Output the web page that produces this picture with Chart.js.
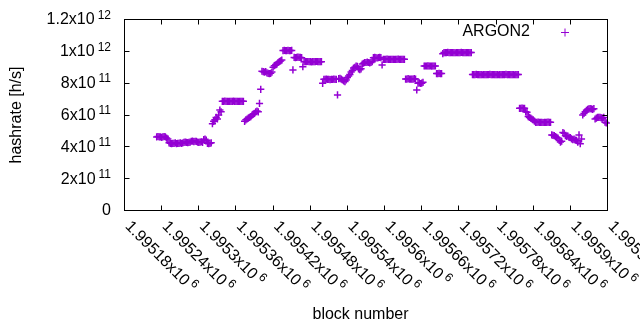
<!DOCTYPE html>
<html><head><meta charset="utf-8">
<script src="https://cdn.jsdelivr.net/npm/chart.js@4/dist/chart.umd.min.js"></script>
<style>html,body{margin:0;padding:0;background:#fff}#c{display:block}</style>
</head><body><canvas id="c" width="640" height="330"></canvas>
<script>
const seriesName = 'ARGON2';
const xAxisTitle = 'block number';
const yAxisTitle = 'hashrate [h/s]';
const xTicks = [1995180,1995240,1995300,1995360,1995420,1995480,1995540,1995600,1995660,1995720,1995780,1995840,1995900,1995960];
const xTickMain = ['1.99518x10','1.99524x10','1.9953x10','1.99536x10','1.99542x10','1.99548x10','1.99554x10','1.9956x10','1.99566x10','1.99572x10','1.99578x10','1.99584x10','1.9959x10','1.99596x10'];
const xTickExp = ['6','6','6','6','6','6','6','6','6','6','6','6','6','6'];
const yTicks = [0,2e11,4e11,6e11,8e11,1e12,1.2e12];
const yTickMain = ['0','2x10','4x10','6x10','8x10','1x10','1.2x10'];
const yTickExp = ['','11','11','11','11','12','12'];

const blockNumbers = [
1995232,1995234,1995236,1995238,1995240,1995242,1995244,1995246,1995248,1995250,
1995252,1995254,1995256,1995258,1995260,1995262,1995264,1995266,1995268,1995270,
1995272,1995274,1995276,1995278,1995280,1995282,1995284,1995286,1995288,1995290,
1995292,1995294,1995296,1995298,1995300,1995302,1995304,1995306,1995308,1995310,
1995312,1995314,1995316,1995318,1995320,1995322,1995324,1995326,1995328,1995330,
1995332,1995334,1995336,1995338,1995340,1995342,1995344,1995346,1995348,1995350,
1995352,1995354,1995356,1995358,1995360,1995362,1995364,1995366,1995368,1995370,
1995372,1995374,1995376,1995378,1995380,1995382,1995384,1995386,1995388,1995390,
1995392,1995394,1995396,1995398,1995400,1995402,1995404,1995406,1995408,1995410,
1995412,1995414,1995416,1995418,1995420,1995422,1995424,1995426,1995428,1995430,
1995432,1995434,1995436,1995438,1995440,1995442,1995444,1995446,1995448,1995450,
1995452,1995454,1995456,1995458,1995460,1995462,1995464,1995466,1995468,1995470,
1995472,1995474,1995476,1995478,1995480,1995482,1995484,1995486,1995488,1995490,
1995492,1995494,1995496,1995498,1995500,1995502,1995504,1995506,1995508,1995510,
1995512,1995514,1995516,1995518,1995520,1995522,1995524,1995526,1995528,1995530,
1995532,1995534,1995536,1995538,1995540,1995542,1995544,1995546,1995548,1995550,
1995552,1995554,1995556,1995558,1995560,1995562,1995564,1995566,1995568,1995570,
1995572,1995574,1995576,1995578,1995580,1995582,1995584,1995586,1995588,1995590,
1995592,1995594,1995596,1995598,1995600,1995602,1995604,1995606,1995608,1995610,
1995612,1995614,1995616,1995618,1995620,1995622,1995624,1995626,1995628,1995630,
1995632,1995634,1995636,1995638,1995640,1995642,1995644,1995646,1995648,1995650,
1995652,1995654,1995656,1995658,1995660,1995662,1995664,1995666,1995668,1995670,
1995672,1995674,1995676,1995678,1995680,1995682,1995684,1995686,1995688,1995690,
1995692,1995694,1995696,1995698,1995700,1995702,1995704,1995706,1995708,1995710,
1995712,1995714,1995716,1995718,1995720,1995722,1995724,1995726,1995728,1995730,
1995732,1995734,1995736,1995738,1995740,1995742,1995744,1995746,1995748,1995750,
1995752,1995754,1995756,1995758,1995760,1995762,1995764,1995766,1995768,1995770,
1995772,1995774,1995776,1995778,1995780,1995782,1995784,1995786,1995788,1995790,
1995792,1995794,1995796,1995798,1995800,1995802,1995804,1995806,1995808,1995810,
1995812,1995814,1995816,1995818,1995820,1995822,1995824,1995826,1995828,1995830,
1995832,1995834,1995836,1995838,1995840,1995842,1995844,1995846,1995848,1995850,
1995852,1995854,1995856,1995858,1995860,1995862,1995864,1995866,1995868,1995870,
1995872,1995874,1995876,1995878,1995880,1995882,1995884,1995886,1995888,1995890,
1995892,1995894,1995896,1995898,1995900,1995902,1995904,1995906,1995908,1995910,
1995912,1995914,1995916,1995918,1995920,1995922,1995924,1995926,1995928,1995930,
1995932,1995934,1995936,1995938,1995940,1995942,1995944,1995946,1995948,1995950,
1995952,1995954,1995956,1995958
];

// hashrate in units of 1e11 h/s, one value per entry of blockNumbers
const hashrateE11 = [
4.62,4.65,4.62,4.62,4.60,4.62,4.65,4.62,4.55,4.50,
4.25,4.22,4.20,4.22,4.22,4.25,4.20,4.22,4.22,4.25,4.22,4.24,
4.28,4.30,4.28,4.26,4.28,4.30,
4.35,4.36,4.33,4.35,4.34,
4.30,4.28,4.30,4.32,4.28,
4.45,4.48,4.42,
4.22,4.20,4.22,4.25,
5.45,5.60,5.70,5.85,5.75,6.00,6.31,6.20,
6.86,6.86,6.87,6.86,6.86,6.85,6.86,6.86,6.86,6.87,6.86,6.86,6.86,6.85,6.86,6.86,6.86,6.86,
5.60,5.70,5.75,5.80,5.85,5.90,6.00,6.05,6.10,6.20,6.25,6.20,
6.73,7.61,
8.75,8.72,8.70,8.72,8.65,8.62,8.60,8.62,8.70,
9.00,9.10,9.14,9.20,9.30,9.35,9.40,9.45,
10.05,10.06,10.05,10.05,10.06,10.05,10.05,10.06,
8.83,
9.62,9.60,9.62,9.63,9.62,9.62,9.60,
9.03,
9.35,9.35,9.35,9.36,9.35,9.35,9.34,9.35,9.35,9.35,9.36,9.35,9.35,9.35,9.35,
7.99,
8.24,8.24,8.25,8.24,8.24,8.22,8.24,8.24,8.25,8.24,8.24,7.26,8.28,8.30,8.25,8.20,8.15,8.10,
8.20,8.35,8.45,8.55,8.70,8.80,8.95,9.00,9.07,9.05,8.90,8.85,8.90,
9.20,9.25,9.30,9.30,9.32,9.30,9.28,9.30,9.35,
9.60,9.62,9.60,9.58,9.60,9.62,9.60,
9.14,
9.50,9.50,9.50,9.51,9.50,9.50,9.50,9.49,9.50,9.50,9.50,9.50,9.51,9.50,9.50,9.50,9.50,9.50,
8.26,8.26,8.28,8.26,8.26,8.25,8.26,8.28,8.26,
7.57,
8.00,8.02,7.98,8.00,8.05,
9.08,9.08,9.08,9.09,9.08,9.08,9.07,9.08,9.08,9.08,
8.60,8.60,8.61,8.60,8.60,
9.85,9.92,9.92,9.92,9.93,9.92,9.92,9.92,9.92,9.92,9.91,9.92,9.92,9.92,9.92,9.93,9.92,9.92,9.92,9.92,9.92,9.92,9.92,9.92,
8.54,8.54,8.54,8.55,8.54,8.54,8.54,8.54,8.53,8.54,8.54,8.54,8.54,8.54,8.55,8.54,8.54,8.54,8.54,
8.54,8.54,8.53,8.54,8.54,8.54,8.54,8.54,8.55,8.54,8.54,8.54,8.54,8.54,8.54,8.53,8.54,8.54,8.54,
6.42,6.42,6.43,6.42,6.42,
6.20,6.18,
5.90,5.85,5.80,5.75,5.70,5.62,
5.54,5.54,5.55,5.54,5.54,5.54,5.53,5.54,5.54,5.54,5.55,5.54,5.54,
4.75,4.72,4.70,4.65,4.60,4.55,4.40,4.30,4.35,4.90,4.85,4.70,4.65,4.68,4.60,4.58,4.50,4.45,4.48,4.42,4.40,4.30,4.75,4.20,4.50,
6.00,6.10,6.20,6.30,6.35,6.38,6.40,6.38,6.35,6.40,
5.75,5.80,5.85,5.85,5.85,5.82,5.80,5.85,5.55,5.50
];

const POINT_COLOR = '#9400D3';
const FONT = '"Liberation Sans", Arial, sans-serif';

const points = blockNumbers.map((b, i) => ({ x: b, y: hashrateE11[i] * 1e11 }));

const gnuplotFrame = {
  id: 'gnuplotFrame',
  afterDraw(chart) {
    const ctx = chart.ctx;
    const { left, right, top, bottom } = chart.chartArea;
    const xs = chart.scales.x, ys = chart.scales.y;
    ctx.save();
    ctx.strokeStyle = '#000';
    ctx.lineWidth = 1;
    ctx.strokeRect(left, top, right - left, bottom - top);
    const tl = 5;
    ctx.beginPath();
    yTicks.forEach(v => {
      const py = Math.round(ys.getPixelForValue(v) - 0.5) + 0.5;
      ctx.moveTo(left, py); ctx.lineTo(left + tl, py);
      ctx.moveTo(right, py); ctx.lineTo(right - tl, py);
    });
    xTicks.forEach(v => {
      const px = Math.round(xs.getPixelForValue(v) - 0.5) + 0.5;
      ctx.moveTo(px, bottom); ctx.lineTo(px, bottom - tl);
      ctx.moveTo(px, top); ctx.lineTo(px, top + tl);
    });
    ctx.stroke();

    ctx.fillStyle = '#000';
    const mainFont = '16px ' + FONT;
    const supFont = '12px ' + FONT;
    ctx.textBaseline = 'middle';
    ctx.textAlign = 'left';
    yTicks.forEach((v, i) => {
      const py = ys.getPixelForValue(v);
      ctx.font = mainFont;
      const wm = ctx.measureText(yTickMain[i]).width;
      ctx.font = supFont;
      const ws = yTickExp[i] ? ctx.measureText(yTickExp[i]).width + 3 : 0;
      const x0 = 111 - wm - ws;
      ctx.font = mainFont;
      ctx.fillText(yTickMain[i], x0, py + 0.5);
      if (yTickExp[i]) { ctx.font = supFont; ctx.fillText(yTickExp[i], x0 + wm + 3, py - 4); }
    });
    xTicks.forEach((v, i) => {
      const px = xs.getPixelForValue(v);
      ctx.save();
      ctx.translate(px + 3, 224);
      ctx.rotate(Math.PI / 4);
      ctx.font = mainFont;
      const wm = ctx.measureText(xTickMain[i]).width;
      ctx.fillText(xTickMain[i], 0, 0);
      ctx.font = supFont;
      ctx.fillText(xTickExp[i], wm + 3, -5);
      ctx.restore();
    });
    ctx.font = mainFont;
    ctx.textAlign = 'center';
    ctx.fillText(xAxisTitle, 360.5, 315);
    ctx.save();
    ctx.translate(17, 115);
    ctx.rotate(-Math.PI / 2);
    ctx.fillText(yAxisTitle, 0, 0);
    ctx.restore();
    ctx.textAlign = 'right';
    ctx.fillText(seriesName, 530, 32);
    ctx.strokeStyle = POINT_COLOR;
    ctx.beginPath();
    ctx.moveTo(561, 32.5); ctx.lineTo(569, 32.5);
    ctx.moveTo(565, 28.5); ctx.lineTo(565, 36.5);
    ctx.stroke();
    ctx.restore();
  }
};

new Chart(document.getElementById('c'), {
  type: 'scatter',
  data: {
    datasets: [{
      label: seriesName,
      data: points,
      pointStyle: 'cross',
      pointRadius: 3.6,
      pointHoverRadius: 3.6,
      pointBorderWidth: 1.5,
      borderColor: POINT_COLOR,
      backgroundColor: POINT_COLOR,
      showLine: false,
      clip: 5
    }]
  },
  options: {
    responsive: false,
    animation: false,
    devicePixelRatio: 1,
    events: [],
    layout: { padding: { left: 124.5, right: 32.5, top: 19.5, bottom: 119.5 } },
    scales: {
      x: { type: 'linear', display: false, min: 1995180, max: 1995960 },
      y: { type: 'linear', display: false, min: 0, max: 1.2e12 }
    },
    plugins: { legend: { display: false }, tooltip: { enabled: false } }
  },
  plugins: [gnuplotFrame]
});
</script>
</body></html>
